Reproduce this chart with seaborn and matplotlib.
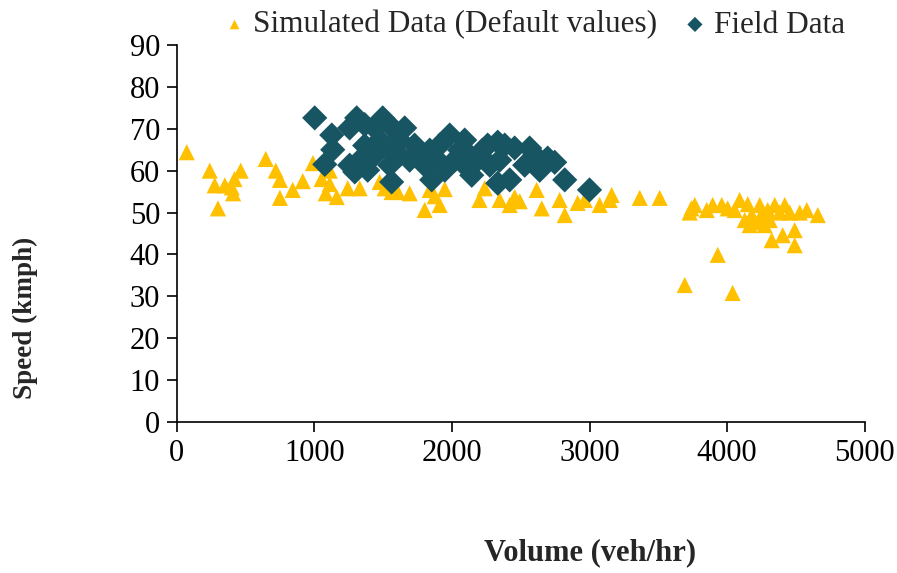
import pandas as pd
import matplotlib.pyplot as plt
import seaborn as sns

# Simulated data (default values) - volume (veh/hr), speed (kmph)
sim_volume = [73, 240, 276, 300, 350, 400, 420, 465, 410, 647, 720, 750, 750, 843, 916,
              990, 1053, 1083, 1112, 1112, 1163, 1243, 1330, 1512, 1562, 1606, 1475, 1693,
              1802, 1875, 1911, 1839, 1948, 2200, 2238, 2347, 2420, 2456, 2493, 2616, 2653,
              2783, 2820, 2914, 2965, 3074, 3147, 3161, 3365, 3510, 3692, 3728, 3765, 3852,
              3895, 3932, 3961, 4004, 4040, 4055, 4091, 4128, 4179, 4200, 4237, 4237, 4273,
              4295, 4310, 4346, 4382, 4324, 4419, 4455, 4404, 4491, 4491, 4528, 4579, 4659,
              4164, 3740, 4150, 4260]
sim_speed = [64.4, 60.0, 56.5, 51.0, 56.5, 56.0, 58.0, 60.0, 54.6, 62.8, 60.0, 57.8, 53.5,
             55.4, 57.5, 61.8, 58.0, 54.6, 60.0, 56.8, 53.7, 55.8, 55.8, 55.8, 54.9, 54.9,
             57.3, 54.6, 50.6, 53.9, 51.8, 55.4, 55.6, 53.0, 55.8, 53.0, 51.8, 53.7, 52.7,
             55.4, 51.0, 53.0, 49.4, 52.3, 53.0, 51.8, 53.0, 54.2, 53.5, 53.5, 32.7, 50.0,
             51.8, 50.6, 51.8, 39.9, 51.8, 51.0, 30.8, 50.6, 53.0, 48.2, 49.4, 47.7, 48.7,
             51.8, 47.0, 50.6, 48.2, 51.8, 50.0, 43.4, 51.8, 50.0, 44.6, 45.8, 42.2, 50.0,
             50.6, 49.4, 47.0, 51.0, 52.0, 49.0]

# Field data
field_volume = [1003, 1076, 1127, 1134, 1257, 1308, 1366, 1439, 1497, 1257, 1294, 1330, 1366,
                1388, 1439, 1475, 1533, 1548, 1562, 1584, 1620, 1657, 1693, 1620, 1729, 1766,
                1802, 1839, 1853, 1897, 1911, 1948, 1984, 2020, 2057, 2093, 2093, 2144, 2129,
                2187, 2222, 2260, 2275, 2333, 2347, 2333, 2384, 2420, 2456, 2529, 2565, 2602,
                2638, 2696, 2747, 2820, 3000]
field_speed = [72.6, 61.5, 68.5, 65.0, 70.2, 72.6, 71.0, 70.2, 72.6, 61.3, 59.7, 62.5, 66.0,
               60.1, 63.7, 67.3, 65.4, 61.3, 57.3, 69.7, 63.7, 70.2, 62.5, 67.3, 66.1, 63.7,
               61.3, 64.9, 57.8, 62.5, 66.1, 60.1, 68.5, 62.5, 64.9, 61.3, 67.3, 58.9, 63.7,
               62.5, 64.9, 66.1, 61.3, 66.8, 62.5, 57.0, 66.1, 57.8, 65.4, 61.3, 65.4, 63.7,
               60.1, 63.0, 62.0, 57.8, 55.4]

sim_df = pd.DataFrame({'volume': sim_volume, 'speed': sim_speed})
field_df = pd.DataFrame({'volume': field_volume, 'speed': field_speed})

sns.set_style("white")
plt.rcParams['font.family'] = ['Liberation Serif', 'DejaVu Serif']

fig = plt.figure(figsize=(8.97, 5.73), dpi=100)
ax = fig.add_axes([0.197, 0.2635, 0.767, 0.658])

sns.scatterplot(data=sim_df, x='volume', y='speed', ax=ax, marker='^', s=135,
                color='#FFC000', edgecolor='none', label='Simulated Data (Default values)')
sns.scatterplot(data=field_df, x='volume', y='speed', ax=ax, marker='D', s=165,
                color='#175563', edgecolor='none', label='Field Data')

ax.set_xlim(0, 5000)
ax.set_ylim(0, 90)
ax.set_xticks(range(0, 5001, 1000))
ax.set_yticks(range(0, 91, 10))
ax.tick_params(axis='both', labelsize=22, direction='out', length=7, width=1.2,
               left=True, bottom=True, colors='black', pad=5)
for side in ['top', 'right']:
    ax.spines[side].set_visible(False)
for side in ['left', 'bottom']:
    ax.spines[side].set_color('black')
    ax.spines[side].set_linewidth(1.2)
ax.set_xlabel('')
ax.set_ylabel('')

fig.text(25 / 897, 1 - 318 / 573, 'Speed (kmph)', rotation=90, ha='center', va='center',
         fontsize=19.5, fontweight='bold')
fig.text(590 / 897, 1 - 553 / 573, 'Volume (veh/hr)', ha='center', va='center',
         fontsize=22, fontweight='bold')

ax.legend(loc='center', bbox_to_anchor=(535 / 897, 1 - 25 / 573),
          bbox_transform=fig.transFigure, ncol=2, frameon=False, fontsize=22.5,
          handlelength=0.6, handletextpad=0.3, columnspacing=0.9, markerscale=0.6,
          borderaxespad=0, borderpad=0)

fig.savefig('out.png', dpi=100)
